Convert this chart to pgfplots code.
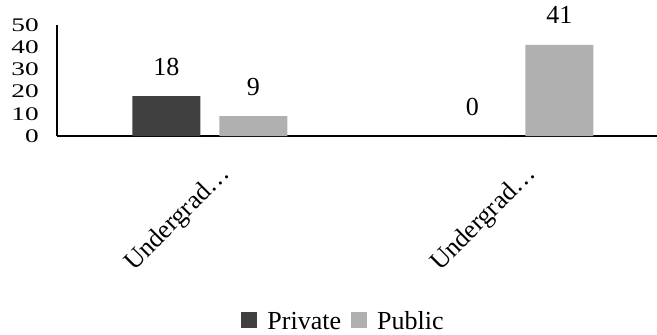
\documentclass[border=0pt]{standalone}
\usepackage{fontspec}
\setmainfont{Liberation Serif}
\usepackage{graphicx}
\usepackage{pgfplots}
\pgfplotsset{compat=1.18}
\definecolor{privatecol}{HTML}{404040}
\definecolor{publiccol}{HTML}{B0B0B0}
\begin{document}
\begin{tikzpicture}[font=\fontsize{26}{31}\selectfont]
\path[use as bounding box] (0,0) rectangle (657pt,335pt);
\begin{axis}[
  at={(57pt,199pt)}, anchor=south west,
  scale only axis, width=600pt, height=111pt,
  xmin=-0.5, xmax=1.461, ymin=0, ymax=50,
  ybar=19pt, bar width=68pt,
  axis x line*=bottom, axis y line*=left,
  axis line style={black, line width=1.5pt},
  xtick={0,1}, xticklabels={Undergrad…,Undergrad…},
  ytick={0,10,...,50},
  major tick length=0pt,
  /pgf/number format/assume math mode=true,
  yticklabel={\scalebox{1.05}[0.74]{\pgfmathprintnumber{\tick}}},
  yticklabel style={anchor=east, inner sep=0pt, xshift=-18pt},
  xticklabel style={inner sep=0pt, xshift=21pt, yshift=-39pt, rotate=45, anchor=base east},
  nodes near coords,
  every node near coord/.append style={anchor=base, inner sep=0pt, yshift=21pt, text=black},
  legend columns=-1,
  legend style={at={(0.4775,-1.673)}, anchor=center, draw=none, fill=none,
    /tikz/every odd column/.append style={column sep=8pt},
    /tikz/every even column/.append style={column sep=8pt}},
  legend image code/.code={\fill[#1] (0pt,-6pt) rectangle (16pt,10pt);},
]
\addplot[fill=privatecol, draw=none] coordinates {(0,18) (1,0)};
\addplot[fill=publiccol, draw=none] coordinates {(0,9) (1,41)};
\legend{Private, Public}
\end{axis}
\end{tikzpicture}
\end{document}
